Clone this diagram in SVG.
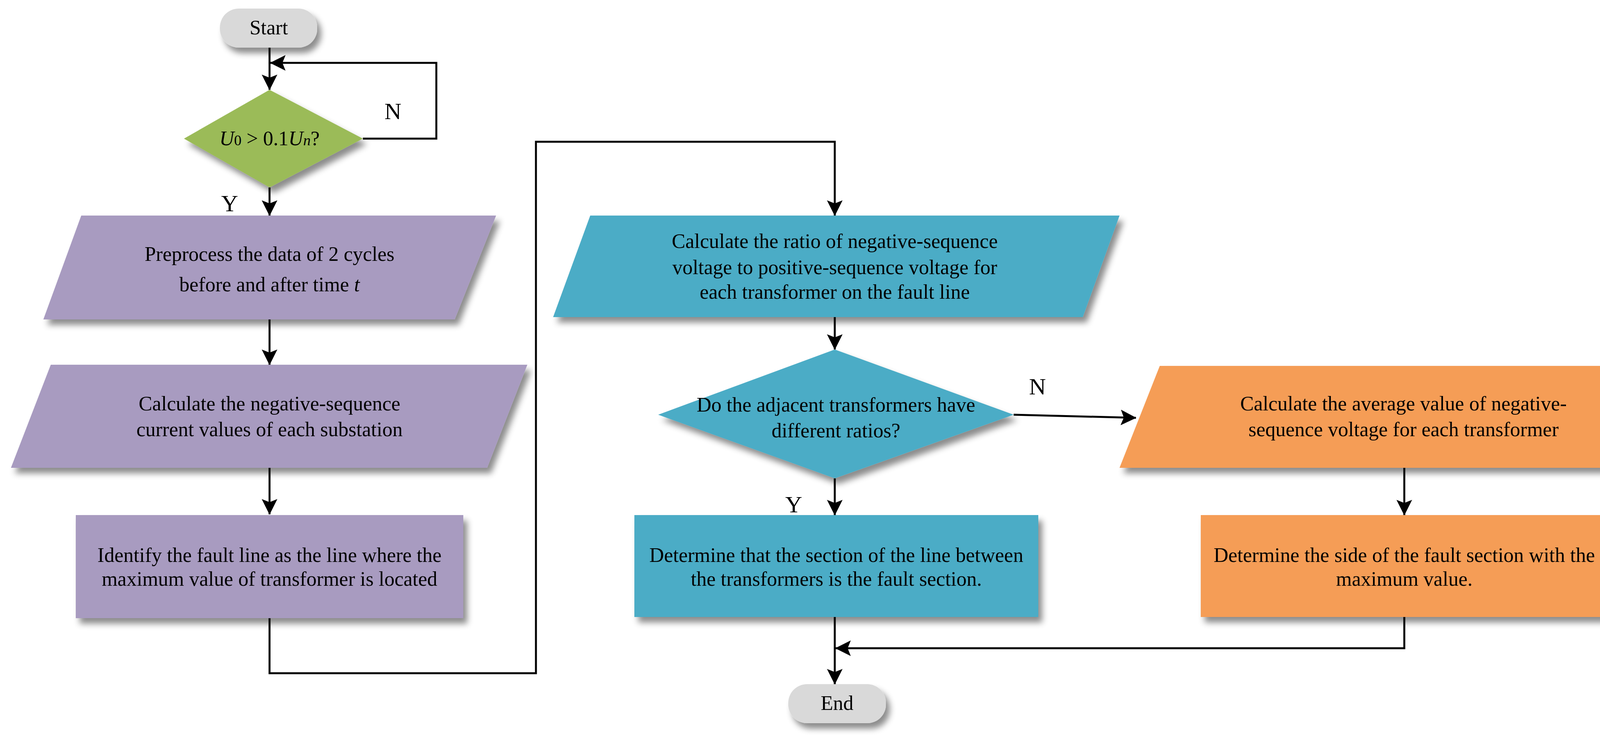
<svg xmlns="http://www.w3.org/2000/svg" width="4346" height="1895" viewBox="0 0 4346 1895">
<defs>
<filter id="sh" x="-10%" y="-10%" width="130%" height="140%"><feDropShadow dx="10" dy="14" stdDeviation="8" flood-color="#000" flood-opacity="0.45"/></filter>
<marker id="ab" viewBox="0 0 40 40" refX="39" refY="20" markerWidth="40" markerHeight="40" markerUnits="userSpaceOnUse" orient="auto"><path d="M0,0 L40,20 L0,40 L8,20 Z" fill="#000"/></marker>
</defs>
<style>
text{font-family:"Liberation Serif","DejaVu Serif",serif;font-size:52px;fill:#000;text-anchor:middle}
.lbl{font-size:60px}
.c{fill:none;stroke:#000;stroke-width:5}
</style>
<rect width="4346" height="1895" fill="#fff"/>
<g id="connectors">
<path class="c" d="M690,122 V230" marker-end="url(#ab)"/>
<path class="c" d="M929,355 H1117 V161 H692" marker-end="url(#ab)"/>
<path class="c" d="M690,480 V552" marker-end="url(#ab)"/>
<path class="c" d="M690,818 V934" marker-end="url(#ab)"/>
<path class="c" d="M690,1198 V1317" marker-end="url(#ab)"/>
<path class="c" d="M690,1583 V1724 H1372 V363 H2137 V552" marker-end="url(#ab)"/>
<path class="c" d="M2137,812 V895" marker-end="url(#ab)"/>
<path class="c" d="M2595,1062 L2908,1070" marker-end="url(#ab)"/>
<path class="c" d="M2137,1225 V1319" marker-end="url(#ab)"/>
<path class="c" d="M3595,1198 V1319" marker-end="url(#ab)"/>
<path class="c" d="M2137,1580 V1752" marker-end="url(#ab)"/>
<path class="c" d="M3595,1580 V1660 H2139" marker-end="url(#ab)"/>
<text class="lbl" x="1006" y="305">N</text>
<text class="lbl" x="588" y="541">Y</text>
<text class="lbl" x="2656" y="1010">N</text>
<text class="lbl" x="2032" y="1312">Y</text>
</g>
<g id="start"><rect x="563" y="22" width="249" height="100" rx="48" fill="#D9D9D9" filter="url(#sh)"/><text x="688" y="88">Start</text></g>
<g id="d1"><polygon points="690,230 929,355 690,480 471,355" fill="#9BBB59" filter="url(#sh)"/><text x="690" y="372"><tspan font-style="italic">U</tspan><tspan font-size="38">0</tspan> &gt; 0.1<tspan font-style="italic">U</tspan><tspan font-style="italic" font-size="38">n</tspan>?</text></g>
<g id="p1"><polygon points="208,552 1270,552 1164,818 111,818" fill="#A89BC0" filter="url(#sh)"/><text x="690" y="668">Preprocess the data of 2 cycles</text><text x="690" y="746">before and after time <tspan font-style="italic">t</tspan></text></g>
<g id="p2"><polygon points="130,934 1350,934 1247,1198 28,1198" fill="#A89BC0" filter="url(#sh)"/><text x="690" y="1051">Calculate the negative-sequence</text><text x="690" y="1117">current values of each substation</text></g>
<g id="r3"><rect x="194" y="1319" width="992" height="264" fill="#A89BC0" filter="url(#sh)"/><text x="690" y="1439">Identify the fault line as the line where the</text><text x="690" y="1500">maximum value of transformer is located</text></g>
<g id="p4"><polygon points="1511,552 2866,552 2772,812 1416,812" fill="#4BACC6" filter="url(#sh)"/><text x="2137" y="635">Calculate the ratio of negative-sequence</text><text x="2137" y="702">voltage to positive-sequence voltage for</text><text x="2137" y="765">each transformer on the fault line</text></g>
<g id="d2"><polygon points="2137,895 2595,1062 2137,1225 1685,1062" fill="#4BACC6" filter="url(#sh)"/><text x="2140" y="1054">Do the adjacent transformers have</text><text x="2140" y="1120">different ratios?</text></g>
<g id="r4"><rect x="1624" y="1319" width="1034" height="261" fill="#4BACC6" filter="url(#sh)"/><text x="2141" y="1439">Determine that the section of the line between</text><text x="2141" y="1500">the transformers is the fault section.</text></g>
<g id="p5"><polygon points="2969,937 4319,937 4216,1198 2866,1198" fill="#F59D56" filter="url(#sh)"/><text x="3593" y="1051">Calculate the average value of negative-</text><text x="3593" y="1117">sequence voltage for each transformer</text></g>
<g id="r5"><rect x="3074" y="1319" width="1042" height="261" fill="#F59D56" filter="url(#sh)"/><text x="3595" y="1439">Determine the side of the fault section with the</text><text x="3595" y="1500">maximum value.</text></g>
<g id="end"><rect x="2018" y="1752" width="250" height="100" rx="48" fill="#D9D9D9" filter="url(#sh)"/><text x="2143" y="1818">End</text></g>
</svg>
